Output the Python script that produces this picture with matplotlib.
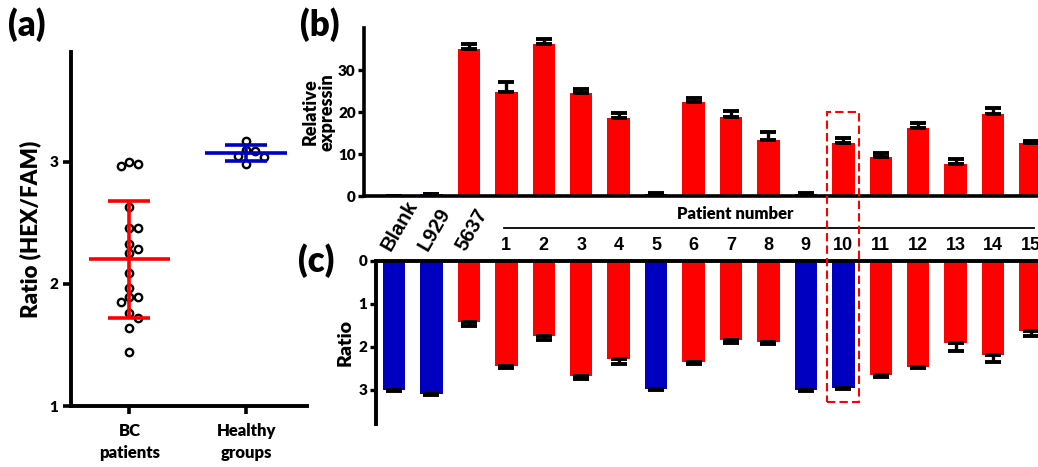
import numpy as np
import matplotlib.pyplot as plt
from matplotlib.patches import Rectangle

plt.rcParams['font.family'] = ['Lato', 'DejaVu Sans']
plt.rcParams['font.weight'] = 'heavy'

# (a) HEX/FAM ratio of each sample
bc_ratio = [3.00, 2.98, 2.97, 2.63, 2.46, 2.46, 2.33, 2.29, 2.25, 2.09,
            1.97, 1.89, 1.89, 1.85, 1.76, 1.72, 1.64, 1.44]
healthy_ratio = [3.17, 3.10, 3.09, 3.05, 3.04, 2.98]
groups = ['BC\npatients', 'Healthy\ngroups']

# (b) / (c) per sample
samples = ['Blank', 'L929', '5637'] + [str(i) for i in range(1, 16)]
expr = [0, 0.5, 35.0, 24.8, 36.3, 24.6, 18.6, 0.4, 22.3, 18.9,
        13.3, 0.4, 12.6, 9.3, 16.3, 7.7, 19.5, 12.6]
expr_err = [0, 0, 1.3, 2.3, 1.2, 0.8, 1.2, 0.4, 1.0, 1.3,
            2.0, 0.4, 1.3, 1.0, 1.0, 1.2, 1.4, 0.5]
ratio = [3.00, 3.09, 1.43, 2.45, 1.76, 2.68, 2.29, 2.98, 2.35, 1.85,
         1.89, 3.00, 2.95, 2.65, 2.47, 1.90, 2.20, 1.64]
ratio_err = [0.02, 0.03, 0.08, 0.04, 0.08, 0.07, 0.12, 0.02, 0.05, 0.07,
             0.05, 0.02, 0.03, 0.06, 0.03, 0.20, 0.16, 0.12]
# N = negative, P = positive
expr_call = ['N', 'N', 'P', 'P', 'P', 'P', 'P', 'N', 'P', 'P',
             'P', 'N', 'P', 'P', 'P', 'P', 'P', 'P']
ratio_call = ['N', 'N', 'P', 'P', 'P', 'P', 'P', 'N', 'P', 'P',
              'P', 'N', 'N', 'P', 'P', 'P', 'P', 'P']
highlight = '10'

RED = '#FF0000'
BLUE = '#0000C0'
cmap = {'N': BLUE, 'P': RED}
FW = 'heavy'

fig = plt.figure(figsize=(10.38, 4.67), dpi=100)


def swarm_x(ax, x0, vals, step=8.7, diam=8.0):
    # simple beeswarm in pixel space
    placed = []
    xs = []
    for v in vals:
        cx, py = ax.transData.transform((x0, v))
        for k in [0, 1, -1, 2, -2, 3, -3]:
            px = k * step
            if all((px - qx) ** 2 + (py - qy) ** 2 >= diam ** 2 for qx, qy in placed):
                break
        placed.append((px, py))
        xs.append(ax.transData.inverted().transform((cx + px, py))[0])
    return xs


# ---------- (a)
axa = fig.add_axes([71 / 1038, 1 - 406 / 467, 236 / 1038, 354 / 467])
axa.set_xlim(0.5, 2.52)
axa.set_ylim(1, 3.9)
for i, (vals, col) in enumerate([(bc_ratio, RED), (healthy_ratio, BLUE)]):
    xpos = i + 1
    xs = swarm_x(axa, xpos, vals)
    axa.plot(xs, vals, 'o', ms=5.3, mfc='white', mec='black', mew=1.7, zorder=2)
    m = np.mean(vals)
    sd = np.std(vals, ddof=1)
    axa.hlines(m, xpos - 0.35, xpos + 0.35, color=col, lw=2.6, zorder=3)
    axa.hlines([m - sd, m + sd], xpos - 0.18, xpos + 0.18, color=col, lw=2.6, zorder=3)
    axa.vlines(xpos, m - sd, m + sd, color=col, lw=2.6, zorder=3)
axa.set_xticks([1, 2])
axa.set_xticklabels(groups, fontsize=12, fontweight=FW, linespacing=1.5)
axa.set_yticks([1, 2, 3])
axa.set_yticklabels(['1', '2', '3'], fontsize=11, fontweight=FW)
axa.set_ylabel('Ratio (HEX/FAM)', fontsize=16, fontweight=FW, labelpad=6)
for s in ['top', 'right']:
    axa.spines[s].set_visible(False)
for s in ['left', 'bottom']:
    axa.spines[s].set_linewidth(2.8)
axa.tick_params(axis='x', width=2.6, length=6, pad=6)
axa.tick_params(axis='y', width=2.6, length=6, pad=3)
fig.text(0.008, 0.985, '(a)', fontsize=25, fontweight=FW, va='top')

# ---------- (b)
x = np.arange(len(samples))
axb = fig.add_axes([364 / 1038, 1 - 196 / 467, 674 / 1038, 168 / 467])
axb.bar(x, expr, width=0.6, color=[cmap[c] for c in expr_call],
        yerr=[np.zeros(len(expr)), expr_err], capsize=6,
        error_kw=dict(elinewidth=2.4, capthick=2.8, ecolor='black'))
axb.set_xlim(-0.8, 17.2)
axb.set_ylim(0, 40)
axb.set_xticks([])
axb.set_yticks([0, 10, 20, 30])
axb.set_yticklabels(['0', '10', '20', '30'], fontsize=11, fontweight=FW)
axb.set_ylabel('Relative\nexpressin', fontsize=13, fontweight=FW, labelpad=2,
               linespacing=0.95)
for s in ['top', 'right']:
    axb.spines[s].set_visible(False)
for s in ['left', 'bottom']:
    axb.spines[s].set_linewidth(2.6)
axb.tick_params(axis='y', width=2.4, length=4, pad=2)
fig.text(300 / 1038, 0.985, '(b)', fontsize=25, fontweight=FW, va='top')

# ---------- (c)
axc = fig.add_axes([376 / 1038, 1 - 424 / 467, 662 / 1038, 163 / 467])
axc.bar(x, ratio, width=0.6, color=[cmap[c] for c in ratio_call],
        yerr=[np.zeros(len(ratio)), ratio_err], capsize=6,
        error_kw=dict(elinewidth=2.4, capthick=2.8, ecolor='black'))
axc.set_xlim(-0.48, 17.2)
axc.set_ylim(3.8, 0)
axc.xaxis.tick_top()
axc.set_xticks(x)
axc.set_xticklabels(samples, fontsize=13, fontweight='bold',
                    family=['Liberation Sans', 'DejaVu Sans'])
for lab in axc.get_xticklabels()[:3]:
    lab.set_rotation(60)
    lab.set_rotation_mode('anchor')
    lab.set_ha('left')
    lab.set_va('bottom')
    lab.set_fontsize(14.5)
axc.tick_params(axis='x', length=0, pad=5)
axc.set_yticks([0, 1, 2, 3])
axc.set_yticklabels(['0', '1', '2', '3'], fontsize=11, fontweight=FW)
axc.set_ylabel('Ratio', fontsize=14, fontweight=FW, labelpad=4)
for s in ['bottom', 'right']:
    axc.spines[s].set_visible(False)
for s in ['left', 'top']:
    axc.spines[s].set_linewidth(2.8)
axc.tick_params(axis='y', width=2.4, length=4, pad=2)
fig.text(298 / 1038, 1 - 261 / 467, '(c)', fontsize=25, fontweight=FW, va='center')

# patient number bracket
p0 = samples.index('1')
axc.plot([p0 - 0.05, len(samples) - 0.92], [-0.77, -0.77], color='black', lw=1.3,
         clip_on=False)
axc.text(9.1, -1.1, 'Patient number', fontsize=12, fontweight=FW,
         ha='center', va='center', clip_on=False)

# dashed box around the highlighted patient in both panels
hi = samples.index(highlight)
inv = fig.transFigure.inverted()
x0f, y1f = inv.transform(axb.transData.transform((hi - 0.43, 20)))
x1f, y0f = inv.transform(axc.transData.transform((hi + 0.43, 3.28)))
fig.add_artist(Rectangle((x0f, y0f), x1f - x0f, y1f - y0f, transform=fig.transFigure,
                         fill=False, ec=RED, lw=1.5, ls=(0, (4, 2))))

fig.savefig('out.png', dpi=100)
